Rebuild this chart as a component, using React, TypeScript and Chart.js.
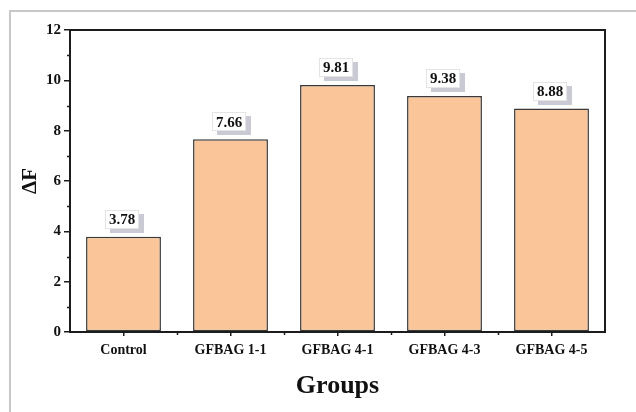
import React, { useEffect, useRef } from "react";
import { Chart, registerables } from "chart.js";

Chart.register(...registerables);

// Fluorescence change per group
const groups = ["Control", "GFBAG 1-1", "GFBAG 4-1", "GFBAG 4-3", "GFBAG 4-5"];
const deltaF = [3.78, 7.66, 9.81, 9.38, 8.88];
const yMin = 0;
const yMax = 12;
const yStep = 2;

const SERIF = '"Liberation Serif", "Times New Roman", Times, serif';
const INK = "#1c1c1c";

// Light page frame, axis box and minor tick marks
const framePlugin = {
  id: "frame",
  beforeDraw(chart: any) {
    const { ctx, width, height } = chart;
    ctx.save();
    ctx.fillStyle = "#ffffff";
    ctx.fillRect(0, 0, width, height);
    ctx.strokeStyle = "#c8c8c8";
    ctx.lineWidth = 2;
    ctx.beginPath();
    ctx.moveTo(10, height);
    ctx.lineTo(10, 11);
    ctx.lineTo(width, 11);
    ctx.stroke();
    ctx.restore();
  },
  afterDraw(chart: any) {
    const { ctx, chartArea } = chart;
    const { left, right, top, bottom } = chartArea;
    ctx.save();
    ctx.strokeStyle = INK;
    ctx.lineWidth = 2;
    ctx.strokeRect(left, top, right - left, bottom - top);

    ctx.lineWidth = 1.5;
    const ys = chart.scales.y;
    ctx.beginPath();
    for (let v = yMin + yStep / 2; v < yMax; v += yStep) {
      const py = Math.round(ys.getPixelForValue(v)) + 0.5;
      ctx.moveTo(left - 3, py);
      ctx.lineTo(left, py);
    }
    const xs = chart.scales.x;
    const half = (right - left) / groups.length / 2;
    for (let i = 1; i < groups.length; i++) {
      const px = Math.round(xs.getPixelForValue(i) - half) + 0.5;
      ctx.moveTo(px, bottom);
      ctx.lineTo(px, bottom + 3);
    }
    ctx.stroke();
    ctx.restore();
  },
};

// Boxed value labels with a drop shadow above each bar
const valueLabelPlugin = {
  id: "valueLabels",
  afterDatasetsDraw(chart: any) {
    const { ctx } = chart;
    const meta = chart.getDatasetMeta(0);
    const values = chart.data.datasets[0].data as number[];
    ctx.save();
    ctx.font = `bold 15px ${SERIF}`;
    ctx.textAlign = "center";
    ctx.textBaseline = "middle";
    meta.data.forEach((bar: any, i: number) => {
      const text = values[i].toFixed(2);
      const w = 34;
      const h = 19;
      const cx = bar.x - 1.5;
      const cy = bar.y - 17.5;
      const bx = Math.round(cx - w / 2);
      const by = Math.round(cy - h / 2);
      ctx.fillStyle = "#c9cad3";
      ctx.fillRect(bx + 5, by + 4, w, h);
      ctx.fillStyle = "#ffffff";
      ctx.fillRect(bx, by, w, h);
      ctx.strokeStyle = "#e4e4e4";
      ctx.lineWidth = 1;
      ctx.strokeRect(bx + 0.5, by + 0.5, w - 1, h - 1);
      ctx.fillStyle = "#111111";
      ctx.fillText(text, cx, cy + 1);
    });
    ctx.restore();
  },
};

export default function App() {
  const canvasRef = useRef<HTMLCanvasElement | null>(null);

  useEffect(() => {
    const canvas = canvasRef.current;
    if (!canvas) return;
    const chart = new Chart(canvas, {
      type: "bar",
      data: {
        labels: groups,
        datasets: [
          {
            data: deltaF,
            backgroundColor: "#fac699",
            borderColor: "#3a3a3a",
            borderWidth: 1.5,
            borderSkipped: false,
            categoryPercentage: 1,
            barPercentage: 0.7,
          },
        ],
      },
      options: {
        responsive: false,
        animation: false,
        devicePixelRatio: 1,
        layout: { padding: { top: 30, right: 31, left: 0, bottom: 0 } },
        plugins: {
          legend: { display: false },
          tooltip: { enabled: false },
        },
        scales: {
          x: {
            offset: true,
            afterFit(scale: any) {
              scale.height = 80;
            },
            grid: {
              offset: false,
              drawOnChartArea: false,
              drawTicks: true,
              tickLength: 4,
              color: INK,
              lineWidth: 1.5,
            },
            border: { display: true, color: INK, width: 2 },
            ticks: {
              padding: 6,
              color: "#111111",
              font: { family: SERIF, size: 14, weight: "bold" },
              maxRotation: 0,
            },
            title: {
              display: true,
              text: "Groups",
              color: "#111111",
              font: { family: SERIF, size: 26, weight: "bold" },
              padding: { top: 0, bottom: 10 },
            },
          },
          y: {
            min: yMin,
            max: yMax,
            afterFit(scale: any) {
              scale.width = 70;
            },
            grid: {
              drawOnChartArea: false,
              drawTicks: true,
              tickLength: 6,
              color: INK,
              lineWidth: 1.5,
            },
            border: { display: true, color: INK, width: 2 },
            ticks: {
              stepSize: yStep,
              padding: 3,
              color: "#111111",
              font: { family: SERIF, size: 15, weight: "bold" },
            },
            title: {
              display: true,
              text: "ΔF",
              color: "#111111",
              font: { family: SERIF, size: 21, weight: "bold" },
              padding: { top: 18, bottom: 0 },
            },
          },
        },
      },
      plugins: [framePlugin, valueLabelPlugin],
    });
    return () => chart.destroy();
  }, []);

  return (
    <div style={{ position: "fixed", left: 0, top: 0, width: 636, height: 412 }}>
      <canvas ref={canvasRef} width={636} height={412} />
    </div>
  );
}
